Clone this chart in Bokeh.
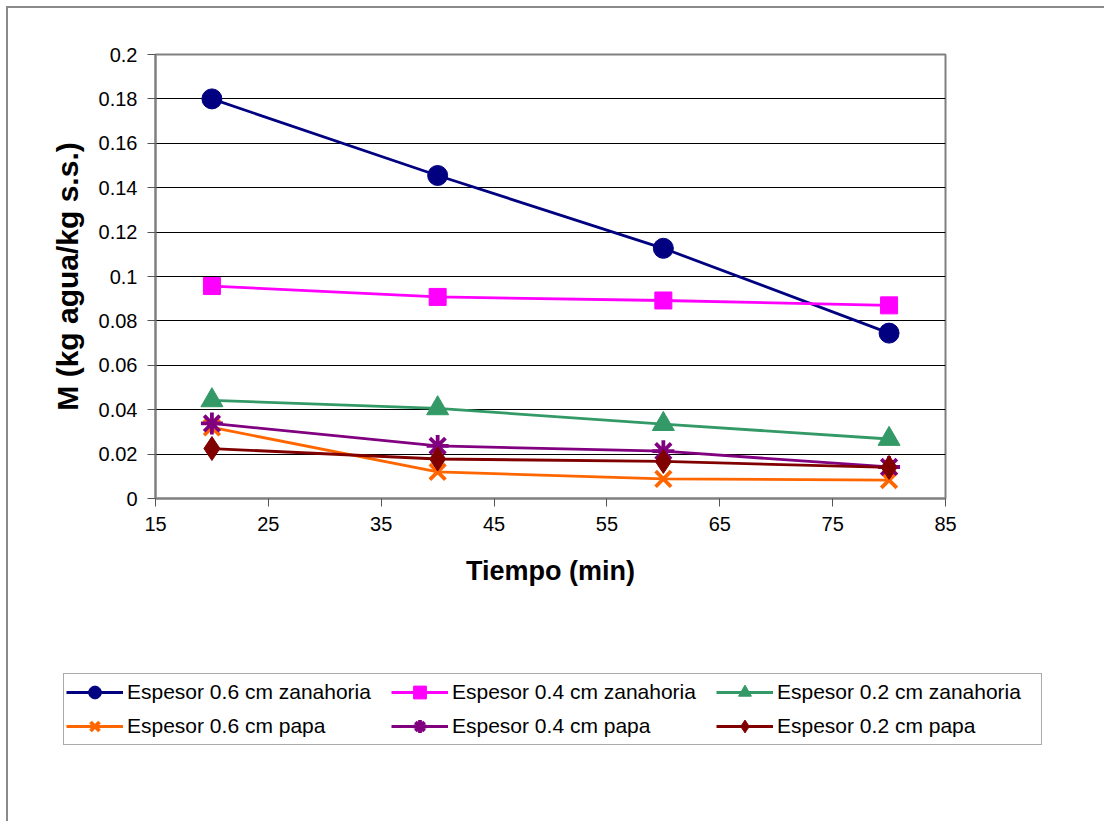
from bokeh.plotting import figure
from bokeh.models import Legend, LegendItem, FixedTicker, Range1d
from bokeh.embed import file_html
from bokeh.resources import INLINE

tiempo = [20, 40, 60, 80]
z06 = [0.180, 0.1455, 0.1127, 0.0745]
z04 = [0.0957, 0.0908, 0.0892, 0.0870]
z02 = [0.0442, 0.0406, 0.0335, 0.0268]
p06 = [0.0320, 0.0120, 0.0088, 0.0083]
p04 = [0.0338, 0.0237, 0.0213, 0.0142]
p02 = [0.0225, 0.0178, 0.0167, 0.0140]

labels = ["Espesor 0.6 cm zanahoria", "Espesor 0.4 cm zanahoria", "Espesor 0.2 cm zanahoria",
          "Espesor 0.6 cm papa", "Espesor 0.4 cm papa", "Espesor 0.2 cm papa"]
x_ticks = [15, 25, 35, 45, 55, 65, 75, 85]
y_ticks = [0, 0.02, 0.04, 0.06, 0.08, 0.1, 0.12, 0.14, 0.16, 0.18, 0.2]
y_tick_labels = ["0", "0.02", "0.04", "0.06", "0.08", "0.1", "0.12", "0.14", "0.16", "0.18", "0.2"]

FONT = "Liberation Sans"

series = [
    (z06, "#000080", "circle", 20),
    (z04, "#FF00FF", "square", 17),
    (z02, "#339966", "triangle", 22),
    (p06, "#FF6600", "x", 22),
    (p04, "#800080", "asterisk", 22),
    (p02, "#800000", "diamond", 24),
]


def draw(fig):
    rends = []
    for (vals, color, marker, size) in series:
        ln = fig.line(tiempo, vals, line_color=color, line_width=2.8)
        if marker in ("x", "asterisk"):
            sc = fig.scatter(tiempo, vals, marker=marker, size=size, line_color=color, line_width=3.8)
        else:
            sc = fig.scatter(tiempo, vals, marker=marker, size=size, fill_color=color, line_color=color)
        rends.append([ln, sc])
    return rends


# main chart
p = figure(width=1098, height=600, output_backend="svg", toolbar_location=None,
           x_range=Range1d(15, 85), y_range=Range1d(0, 0.2),
           min_border_left=147, min_border_right=161, min_border_top=46, min_border_bottom=110)
p.styles = {"margin-left": "6px", "margin-top": "6px",
            "border-left": "2px solid #8a8a8a", "border-top": "2px solid #8a8a8a"}
p.outline_line_color = "#808080"
p.outline_line_width = 2
p.background_fill_color = "white"
p.border_fill_color = "white"

p.xgrid.visible = False
p.ygrid.grid_line_color = "black"
p.ygrid.grid_line_width = 1

p.xaxis.ticker = FixedTicker(ticks=x_ticks)
p.yaxis.ticker = FixedTicker(ticks=y_ticks)
p.yaxis.major_label_overrides = {v: s for v, s in zip(y_ticks, y_tick_labels)}

for ax in (p.xaxis[0], p.yaxis[0]):
    ax.axis_line_color = "#808080"
    ax.axis_line_width = 2
    ax.major_tick_line_color = "#555555"
    ax.major_tick_in = 0
    ax.major_tick_out = 8
    ax.minor_tick_line_color = None
    ax.major_label_text_font = FONT
    ax.major_label_text_font_size = "20px"
    ax.major_label_text_color = "black"
    ax.axis_label_text_font = FONT
    ax.axis_label_text_font_style = "bold"
    ax.axis_label_text_color = "black"

p.xaxis.axis_label = "Tiempo (min)"
p.xaxis.axis_label_text_font_size = "27px"
p.xaxis.major_label_standoff = 10
p.xaxis.axis_label_standoff = 22
p.yaxis.axis_label = "M (kg agua/kg s.s.)"
p.yaxis.axis_label_text_font_size = "30px"
p.yaxis.major_label_standoff = 10
p.yaxis.axis_label_standoff = 12

draw(p)

# legend panel (same series, drawn outside its visible range; only the legend shows)
q = figure(width=1098, height=215, output_backend="svg", toolbar_location=None,
           x_range=Range1d(1000, 1001), y_range=Range1d(1000, 1001),
           x_axis_type=None, y_axis_type=None, min_border=0)
q.styles = {"margin-left": "6px", "border-left": "2px solid #8a8a8a"}
q.outline_line_color = None
q.grid.visible = False
q.background_fill_color = "white"
q.border_fill_color = "white"
rends = draw(q)

order = [0, 3, 1, 4, 2, 5]  # column-major fill for a 3-column, 2-row legend
items = [LegendItem(label=labels[i], renderers=rends[i]) for i in order]
legend = Legend(items=items, ncols=3, location=(55, 76),
                label_text_font=FONT, label_text_font_size="21px", label_text_color="black",
                glyph_width=57, glyph_height=32, label_standoff=4, label_width=262,
                spacing=2, padding=2, margin=0,
                border_line_color="#555555", border_line_width=1,
                background_fill_color="white", background_fill_alpha=1)
q.add_layout(legend, "center")

open("out.html", "w").write(file_html([p, q], INLINE))
